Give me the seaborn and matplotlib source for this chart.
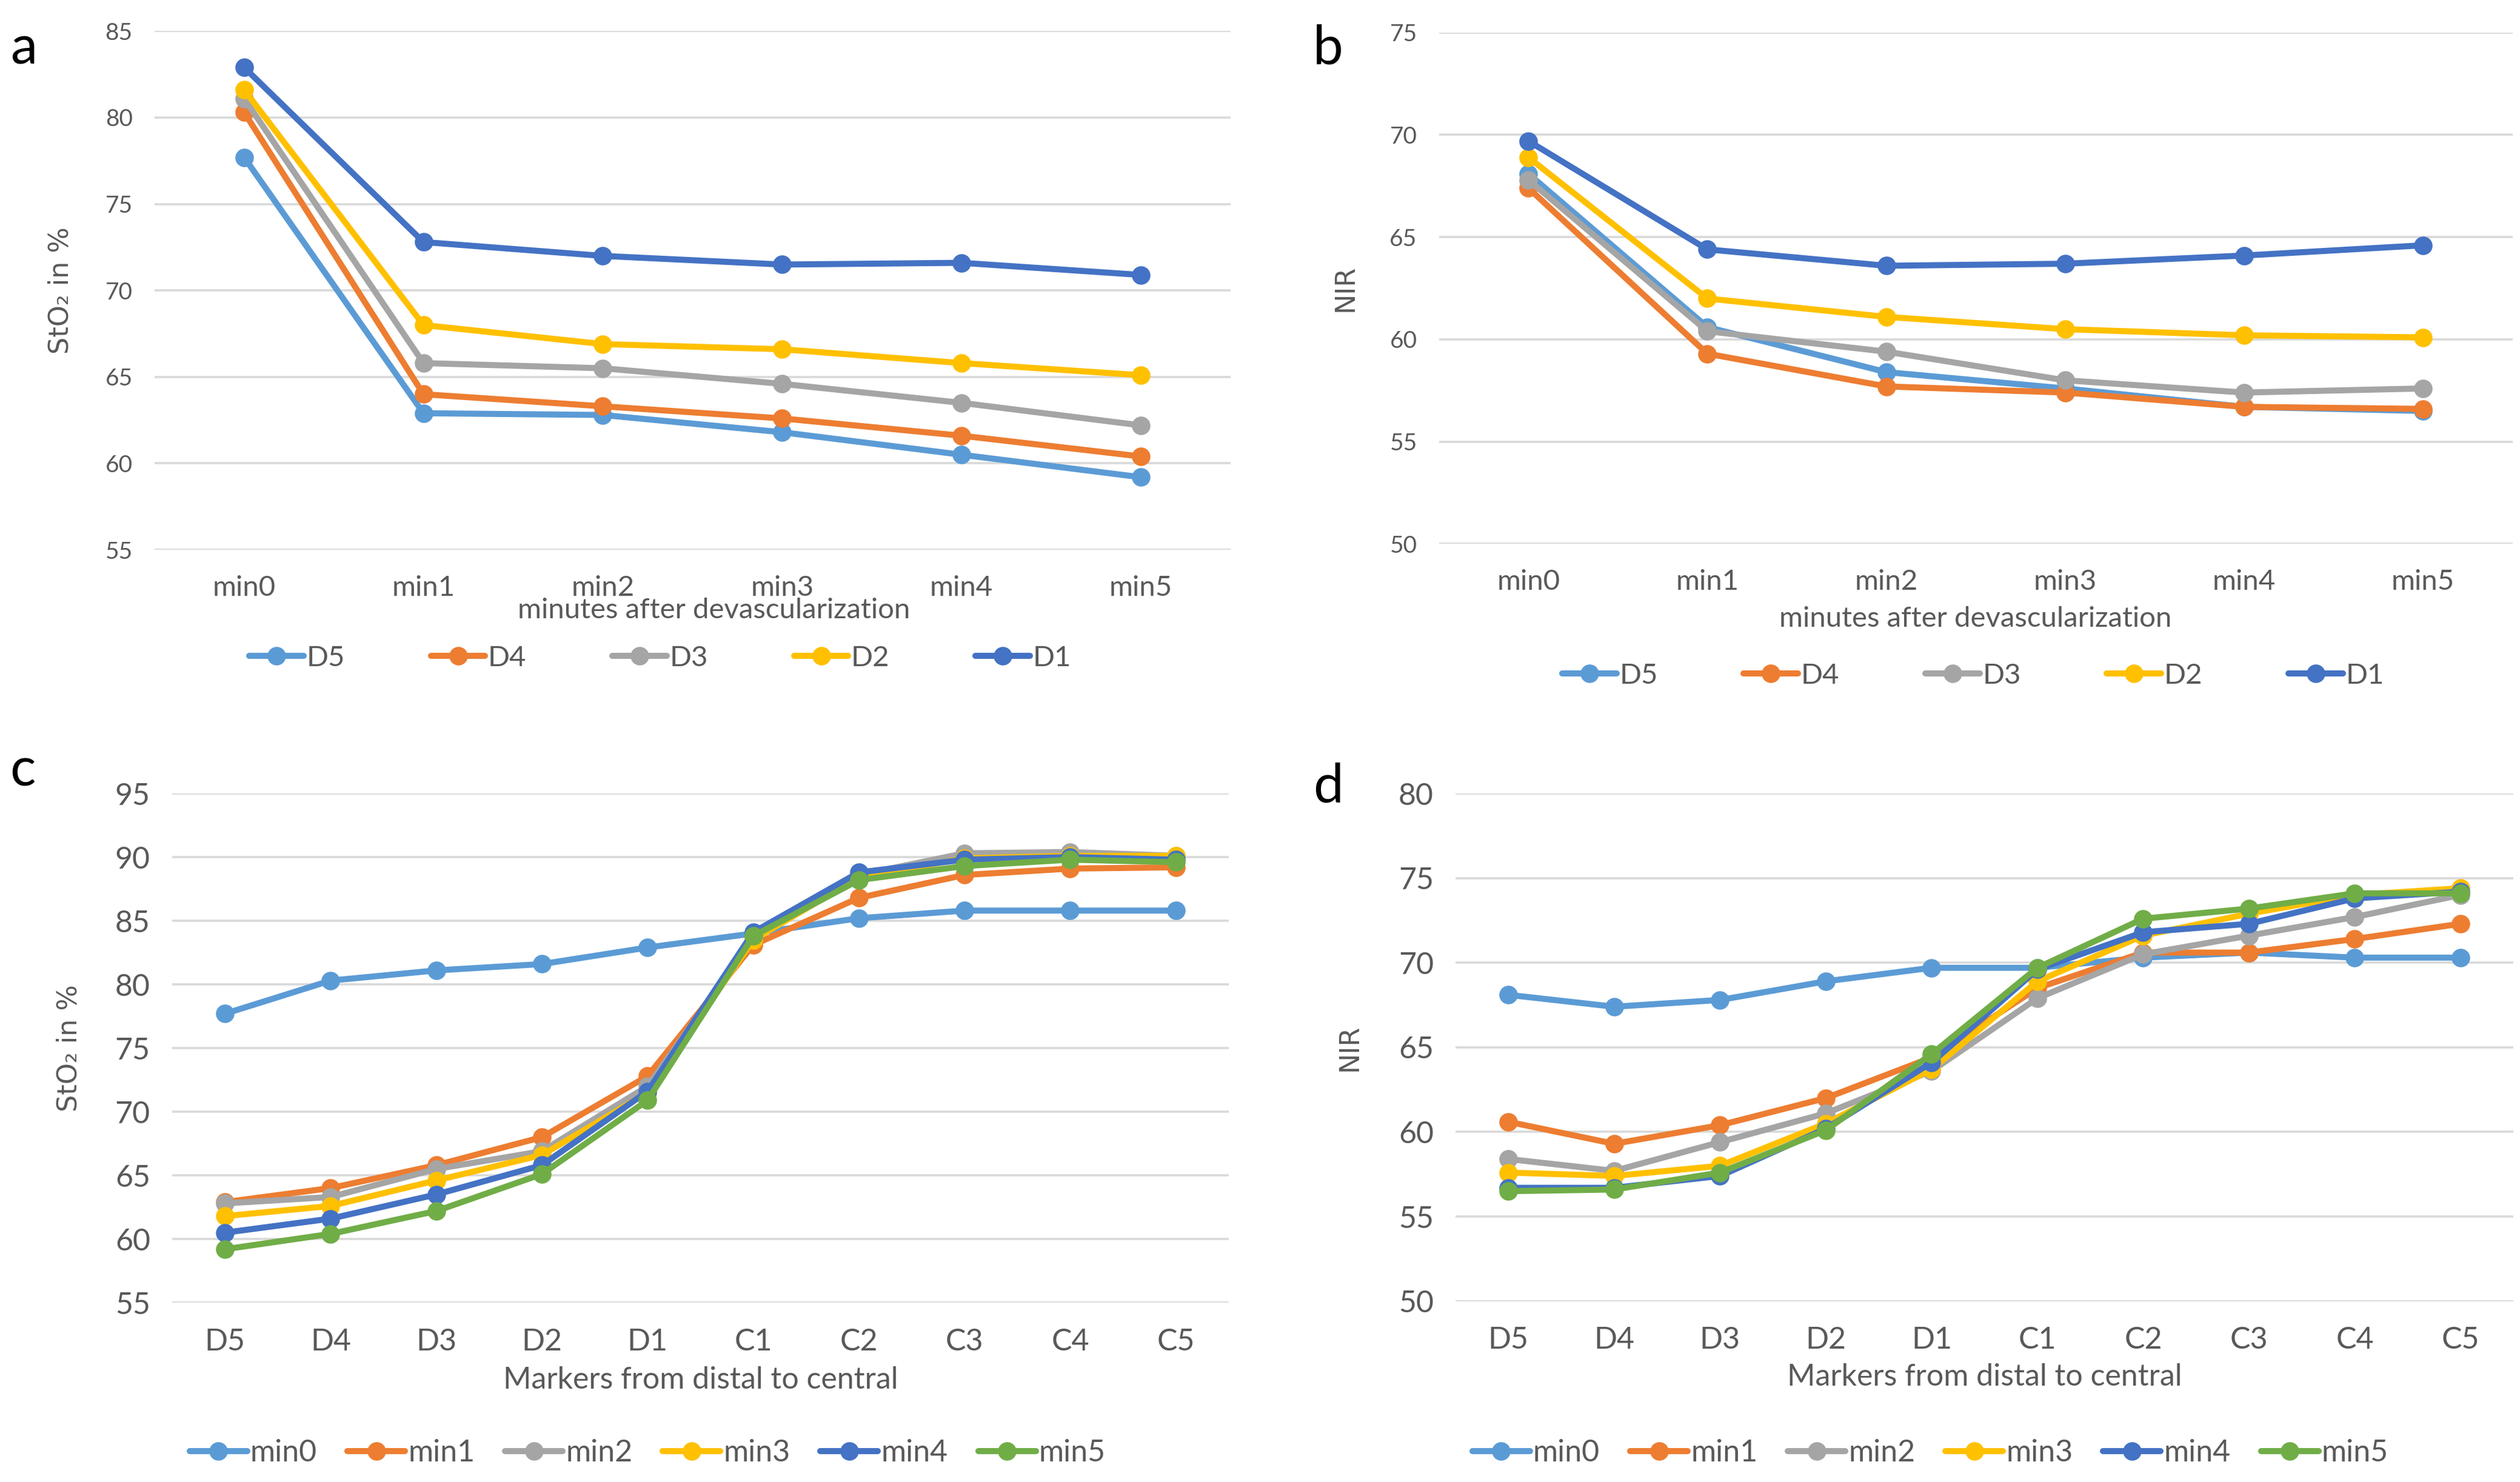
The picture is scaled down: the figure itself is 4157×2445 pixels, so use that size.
import numpy as np
import pandas as pd
import matplotlib
matplotlib.use("Agg")
import matplotlib.pyplot as plt
import seaborn as sns

# ---- data ----
minutes = ["min0", "min1", "min2", "min3", "min4", "min5"]
markers = ["D5", "D4", "D3", "D2", "D1", "C1", "C2", "C3", "C4", "C5"]
dist_names = ["D5", "D4", "D3", "D2", "D1"]

# panel a: StO2 per distal marker over time
sto2_D5 = [77.7, 62.9, 62.8, 61.8, 60.5, 59.2]
sto2_D4 = [80.3, 64.0, 63.3, 62.6, 61.6, 60.4]
sto2_D3 = [81.1, 65.8, 65.5, 64.6, 63.5, 62.2]
sto2_D2 = [81.6, 68.0, 66.9, 66.6, 65.8, 65.1]
sto2_D1 = [82.9, 72.8, 72.0, 71.5, 71.6, 70.9]

# panel b: NIR per distal marker over time
nir_D5 = [68.1, 60.6, 58.4, 57.6, 56.7, 56.5]
nir_D4 = [67.4, 59.3, 57.7, 57.4, 56.7, 56.6]
nir_D3 = [67.8, 60.4, 59.4, 58.0, 57.4, 57.6]
nir_D2 = [68.9, 62.0, 61.1, 60.5, 60.2, 60.1]
nir_D1 = [69.7, 64.4, 63.6, 63.7, 64.1, 64.6]

# panel c: StO2 along markers per minute
sto2_min0 = [77.7, 80.3, 81.1, 81.6, 82.9, 84.0, 85.2, 85.8, 85.8, 85.8]
sto2_min1 = [62.9, 64.0, 65.8, 68.0, 72.8, 83.1, 86.8, 88.6, 89.1, 89.2]
sto2_min2 = [62.8, 63.3, 65.5, 66.9, 72.0, 83.6, 88.6, 90.3, 90.4, 90.1]
sto2_min3 = [61.8, 62.6, 64.6, 66.6, 71.5, 83.5, 88.4, 89.9, 90.1, 90.1]
sto2_min4 = [60.5, 61.6, 63.5, 65.8, 71.6, 84.1, 88.8, 89.8, 90.0, 89.8]
sto2_min5 = [59.2, 60.4, 62.2, 65.1, 70.9, 83.8, 88.2, 89.3, 89.8, 89.6]

# panel d: NIR along markers per minute
nir_min0 = [68.1, 67.4, 67.8, 68.9, 69.7, 69.7, 70.3, 70.6, 70.3, 70.3]
nir_min1 = [60.6, 59.3, 60.4, 62.0, 64.4, 68.5, 70.6, 70.6, 71.4, 72.3]
nir_min2 = [58.4, 57.7, 59.4, 61.1, 63.6, 67.9, 70.5, 71.6, 72.7, 74.0]
nir_min3 = [57.6, 57.4, 58.0, 60.5, 63.7, 68.9, 71.6, 72.9, 74.0, 74.4]
nir_min4 = [56.7, 56.7, 57.4, 60.2, 64.1, 69.6, 71.8, 72.3, 73.8, 74.2]
nir_min5 = [56.5, 56.6, 57.6, 60.1, 64.6, 69.7, 72.6, 73.2, 74.1, 74.1]

pal_dist = ["#5B9BD5", "#ED7D31", "#A5A5A5", "#FFC000", "#4472C4"]
pal_min = ["#5B9BD5", "#ED7D31", "#A5A5A5", "#FFC000", "#4472C4", "#70AD47"]


def long_df(series, names):
    rows = []
    for name, vals in zip(names, series):
        for i, v in enumerate(vals):
            rows.append({"x": i, "value": v, "series": name})
    return pd.DataFrame(rows)


df_a = long_df([sto2_D5, sto2_D4, sto2_D3, sto2_D2, sto2_D1], dist_names)
df_b = long_df([nir_D5, nir_D4, nir_D3, nir_D2, nir_D1], dist_names)
df_c = long_df([sto2_min0, sto2_min1, sto2_min2, sto2_min3, sto2_min4, sto2_min5], minutes)
df_d = long_df([nir_min0, nir_min1, nir_min2, nir_min3, nir_min4, nir_min5], minutes)

sns.set_style("white")
plt.rcParams["font.family"] = ["Lato", "DejaVu Sans"]
txt = "#595959"

fig = plt.figure(figsize=(20.785, 12.225), dpi=200)

ax_a = fig.add_axes([0.0613, 0.629, 0.427, 0.350])
ax_b = fig.add_axes([0.571, 0.633, 0.426, 0.345])
ax_c = fig.add_axes([0.0683, 0.121, 0.4193, 0.3436])
ax_d = fig.add_axes([0.5776, 0.122, 0.4198, 0.3426])

panels = [
    (ax_a, df_a, pal_dist, minutes, (55, 85), "StO\u2082 in %", "minutes after devascularization",
     14, 17, -0.075, (0.52, -0.092), (0.262, 0.556), 5, 3.0),
    (ax_b, df_b, pal_dist, minutes, (50, 75), "NIR", "minutes after devascularization",
     14, 17, -0.075, (0.50, -0.122), (0.783, 0.544), 5, 3.0),
    (ax_c, df_c, pal_min, markers, (55, 95), "StO\u2082 in %", "Markers from distal to central",
     18, 18, -0.085, (0.50, -0.125), (0.257, 0.0196), 6, 1.0),
    (ax_d, df_d, pal_min, markers, (50, 80), "NIR", "Markers from distal to central",
     18, 18, -0.088, (0.50, -0.122), (0.766, 0.0196), 6, 1.0),
]

for (ax, df, pal, cats, ylim, ylab, xlab, yfs, xfs, ylx, xlc, legpos, ncol, colsp) in panels:
    sns.lineplot(data=df, x="x", y="value", hue="series", palette=pal, marker="o",
                 markersize=11, markeredgewidth=0, linewidth=3.6, ax=ax, legend=True)
    ax.set_xlim(-0.5, len(cats) - 0.5)
    ax.set_ylim(*ylim)
    ax.set_xticks(range(len(cats)))
    ax.set_xticklabels(cats)
    ax.set_yticks(np.arange(ylim[0], ylim[1] + 0.1, 5))
    ax.grid(axis="y", color="#D9D9D9", linewidth=1.3)
    ax.grid(axis="x", visible=False)
    for s in ax.spines.values():
        s.set_visible(False)
    ax.tick_params(axis="y", length=0, pad=13, labelsize=yfs, labelcolor=txt)
    ax.tick_params(axis="x", length=0, pad=15, labelsize=xfs, labelcolor=txt)
    ax.set_ylabel(ylab, fontsize=16, color=txt, fontfamily="DejaVu Sans")
    ax.yaxis.set_label_coords(ylx, 0.5)
    ax.set_xlabel(xlab, fontsize=xfs, color=txt)
    ax.xaxis.set_label_coords(*xlc)
    handles, labels = ax.get_legend_handles_labels()
    ax.legend(handles, labels, loc="center", bbox_to_anchor=legpos, bbox_transform=fig.transFigure,
              ncol=ncol, frameon=False, fontsize=xfs, labelcolor=txt, handlelength=1.9,
              handletextpad=0.1, columnspacing=colsp, borderpad=0)

for letter, x, y in [("a", 0.004, 0.967), ("b", 0.521, 0.967), ("c", 0.004, 0.480), ("d", 0.521, 0.469)]:
    fig.text(x, y, letter, fontsize=32, color="black", va="center", ha="left")

fig.savefig("out.png", dpi=200)
